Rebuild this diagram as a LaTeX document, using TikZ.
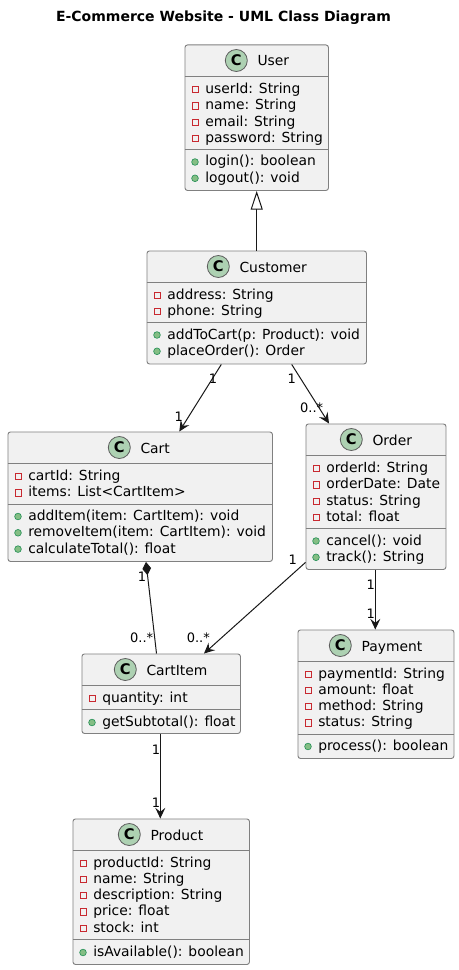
\documentclass[tikz,border=0pt]{standalone}
\usepackage{fontspec}
\setmainfont{DejaVu Sans}
\usetikzlibrary{arrows.meta,calc}

\definecolor{boxfill}{HTML}{F1F1F1}
\definecolor{boxline}{HTML}{808080}
\definecolor{edgeline}{HTML}{181818}
\definecolor{spotfill}{HTML}{ADD1B2}
\definecolor{privline}{HTML}{C82930}
\definecolor{pubfill}{HTML}{84BE84}
\definecolor{publine}{HTML}{038048}

\tikzset{
	classbox/.style={draw=boxline,fill=boxfill,line width=0.7pt,rounded corners=1.9pt,anchor=north west,inner sep=0pt},
	sepline/.style={draw=boxline,line width=0.7pt},
	spot/.style={circle,draw=edgeline!70,fill=spotfill,line width=0.6pt,minimum size=16.5pt,inner sep=0pt,font=\fontsize{11pt}{11pt}\bfseries},
	classname/.style={anchor=base west,inner sep=0pt,font=\fontsize{10.4pt}{12pt}\selectfont},
	rowtext/.style={anchor=base west,inner sep=0pt,font=\fontsize{10.4pt}{12pt}\selectfont},
	privicon/.style={rectangle,draw=privline,line width=0.5pt,minimum size=4.7pt,inner sep=0pt},
	pubicon/.style={circle,draw=publine!70!pubfill,fill=pubfill,line width=0.5pt,minimum size=5pt,inner sep=0pt},
	assoc/.style={draw=edgeline,line width=0.75pt,-{Stealth[length=8pt,width=7.5pt,inset=3pt]}},
	compo/.style={draw=edgeline,line width=0.75pt,{Diamond[length=10pt,width=6.5pt,fill=edgeline]}-},
	inherit/.style={draw=edgeline,line width=0.75pt,-{Triangle[open,length=14pt,width=9pt,fill=white]}},
	mult/.style={inner sep=0pt,font=\fontsize{9.75pt}{11pt}\selectfont},
}

% id, title, x, y, width, height, separator offset, spot offset
\newcommand{\umlclass}[8]{
	\node (#1) [classbox,minimum width=#5*0.75pt,minimum height=#6*0.75pt] at (#3,#4) {};
	\draw [sepline] ($(#1.north west)+(0,32)$) -- ($(#1.north east)+(0,32)$);
	\draw [sepline] ($(#1.north west)+(0,#7)$) -- ($(#1.north east)+(0,#7)$);
	\node (#1spot) [spot] at ($(#1.north west)+(#8,16)$) {C};
	\node (#1name) [classname] at ($(#1.north west)+(#8+21,21.5)$) {#2};
}
% id, offset of first baseline, icon style, rows
\newcommand{\umlrows}[4]{
	\foreach \rowtxt [count=\i] in {#4} {
		\node (#1#3\i) [#3] at ($(#1.north west)+(10.5,{#2+(\i-1)*16.3-4})$) {};
		\node (#1#3t\i) [rowtext] at ($(#1.north west)+(20.5,{#2+(\i-1)*16.3})$) {\rowtxt};
	}
}

\begin{document}
\begin{tikzpicture}[x=0.75pt,y=0.75pt,yscale=-1,xscale=1]
	\useasboundingbox (0,0) rectangle (459,970);
	\node (title) [inner sep=0pt,font=\fontsize{10.5pt}{12pt}\bfseries] at (223.5,18) {E-Commerce Website - UML Class Diagram};

	\umlclass{user}{User}{184.5}{44.5}{143.5}{145.5}{105}{51.8}
	\umlrows{user}{49}{privicon}{userId: String,name: String,email: String,password: String}
	\umlrows{user}{121.5}{pubicon}{login(): boolean,logout(): void}

	\umlclass{customer}{Customer}{146.5}{250.5}{219.5}{113}{72}{71.8}
	\umlrows{customer}{48.5}{privicon}{address: String,phone: String}
	\umlrows{customer}{88.5}{pubicon}{addToCart(p: Product): void,placeOrder(): Order}

	\umlclass{cart}{Cart}{7.5}{431.5}{264.5}{129.5}{73}{111.8}
	\umlrows{cart}{49}{privicon}{cartId: String,items: List<CartItem>}
	\umlrows{cart}{89}{pubicon}{addItem(item: CartItem): void,removeItem(item: CartItem): void,calculateTotal(): float}

	\umlclass{order}{Order}{305.5}{423.5}{140}{145.5}{104.5}{45.8}
	\umlrows{order}{49}{privicon}{orderId: String,orderDate: Date,status: String,total: float}
	\umlrows{order}{121.5}{pubicon}{cancel(): void,track(): String}

	\umlclass{payment}{Payment}{297.5}{629.5}{156}{128.5}{104.5}{42.8}
	\umlrows{payment}{48.5}{privicon}{paymentId: String,amount: float,method: String,status: String}
	\umlrows{payment}{121}{pubicon}{process(): boolean}

	\umlclass{cartitem}{CartItem}{81.5}{653.5}{158.5}{79.5}{56}{43.8}
	\umlrows{cartitem}{48.5}{privicon}{quantity: int}
	\umlrows{cartitem}{73}{pubicon}{getSubtotal(): float}

	\umlclass{product}{Product}{72.5}{818.5}{176.5}{145.5}{121}{56.8}
	\umlrows{product}{48.5}{privicon}{productId: String,name: String,description: String,price: float,stock: int}
	\umlrows{product}{138}{pubicon}{isAvailable(): boolean}

	\draw [inherit] (customer.north) -- (user.south);
	\draw [assoc] ($(customer.south west)+(74.8,0)$) -- ($(cart.north west)+(171.8,0)$);
	\draw [assoc] ($(customer.south west)+(145.2,0)$) -- ($(order.north west)+(23.5,0)$);
	\draw [compo] ($(cart.south west)+(138.5,0)$) -- ($(cartitem.north west)+(75,0)$);
	\draw [assoc] ($(order.south west)+(0,-7.5)$) -- ($(cartitem.north west)+(122.5,0)$);
	\draw [assoc] ($(order.south west)+(69.8,0)$) -- ($(payment.north west)+(77.8,0)$);
	\draw [assoc] ($(cartitem.south west)+(78.8,0)$) -- ($(product.north west)+(87.8,0)$);

	\node (m1) [mult] at (213,379) {1};
	\node (m2) [mult] at (178.7,416.7) {1};
	\node (m3) [mult] at (291.7,379) {1};
	\node (m4) [mult] at (311.7,407.7) {0..*};
	\node (m5) [mult] at (142,576.7) {1};
	\node (m6) [mult] at (141.7,637.3) {0..*};
	\node (m7) [mult] at (292.7,560) {1};
	\node (m8) [mult] at (198.3,637.3) {0..*};
	\node (m9) [mult] at (370.7,584.3) {1};
	\node (m10) [mult] at (370.7,613.3) {1};
	\node (m11) [mult] at (156,749.3) {1};
	\node (m12) [mult] at (156,802.7) {1};
\end{tikzpicture}
\end{document}
